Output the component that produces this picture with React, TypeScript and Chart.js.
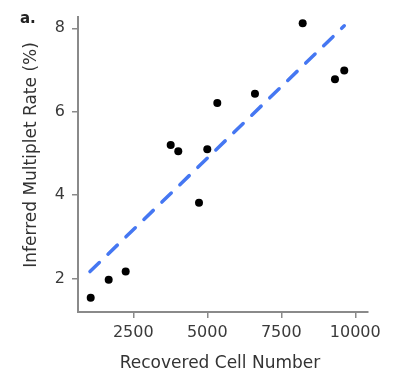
import React, { useEffect, useRef } from "react";
import { Chart, registerables } from "chart.js";

Chart.register(...registerables);

const cellNumbers = [1061, 1669, 2243, 3764, 4020, 4720, 5000, 5338, 6611, 8223, 9314, 9628];
const multipletRates = [1.54, 1.97, 2.17, 5.2, 5.05, 3.82, 5.1, 6.21, 6.43, 8.12, 6.78, 6.99];
const fitX = [1037, 9628];
const fitY = [2.17, 8.06];
const xTicks = [2500, 5000, 7500, 10000];
const yTicks = [2, 4, 6, 8];
const xTitle = "Recovered Cell Number";
const yTitle = "Inferred Multiplet Rate (%)";
const panelLabel = "a.";

const FONT = "'DejaVu Sans', sans-serif";

const textPlugin = {
  id: "texts",
  afterDraw(chart: any) {
    const ctx = chart.ctx;
    const area = chart.chartArea;
    ctx.save();
    ctx.fillStyle = "#333";
    ctx.font = `17px ${FONT}`;
    ctx.textAlign = "center";
    ctx.textBaseline = "middle";
    ctx.fillText(xTitle, (area.left + area.right) / 2 - 3, 364);
    ctx.save();
    ctx.translate(32, 155);
    ctx.rotate(-Math.PI / 2);
    ctx.fillText(yTitle, 0, 0);
    ctx.restore();
    ctx.font = `bold 15px ${FONT}`;
    ctx.textAlign = "left";
    ctx.textBaseline = "alphabetic";
    ctx.fillStyle = "#222";
    ctx.fillText(panelLabel, 20, 23);
    ctx.restore();
  },
};

export default function App() {
  const ref = useRef<HTMLCanvasElement>(null);
  useEffect(() => {
    document.body.style.margin = "0";
    const chart = new Chart(ref.current!, {
      type: "scatter",
      data: {
        datasets: [
          {
            type: "line",
            data: fitX.map((x, i) => ({ x, y: fitY[i] })),
            borderColor: "#4577f2",
            borderWidth: 3.5,
            borderDash: [13, 12],
            borderCapStyle: "round",
            pointRadius: 0,
            fill: false,
          } as any,
          {
            data: cellNumbers.map((x, i) => ({ x, y: multipletRates[i] })),
            backgroundColor: "#000",
            borderColor: "#000",
            pointRadius: 4,
            pointBorderWidth: 0,
          },
        ],
      },
      options: {
        animation: false,
        responsive: false,
        devicePixelRatio: 1,
        layout: { padding: { top: 13, right: 25, left: 0, bottom: 0 } },
        plugins: { legend: { display: false }, tooltip: { enabled: false } },
        scales: {
          x: {
            type: "linear",
            min: 632,
            max: 10430,
            afterFit: (s: any) => {
              s.height = 62;
            },
            afterBuildTicks: (s: any) => {
              s.ticks = xTicks.map((v) => ({ value: v }));
            },
            border: { display: true, color: "#8a8a8a", width: 2 },
            grid: { drawOnChartArea: false, drawTicks: true, tickLength: 6, color: "#8a8a8a", lineWidth: 1.5 },
            ticks: {
              font: { family: FONT, size: 16 },
              color: "#3a3a3a",
              padding: 5,
              maxRotation: 0,
              callback: (v: any) => String(v),
            },
          },
          y: {
            type: "linear",
            min: 1.2,
            max: 8.28,
            afterFit: (s: any) => {
              s.width = 78;
            },
            afterBuildTicks: (s: any) => {
              s.ticks = yTicks.map((v) => ({ value: v }));
            },
            border: { display: true, color: "#8a8a8a", width: 2 },
            grid: { drawOnChartArea: false, drawTicks: true, tickLength: 6, color: "#8a8a8a", lineWidth: 1.5 },
            ticks: {
              font: { family: FONT, size: 16 },
              color: "#3a3a3a",
              padding: 7,
              callback: (v: any) => String(v),
            },
          },
        },
      },
      plugins: [textPlugin],
    });
    return () => chart.destroy();
  }, []);
  return <canvas ref={ref} width={393} height={374} style={{ display: "block", width: 393, height: 374 }} />;
}
